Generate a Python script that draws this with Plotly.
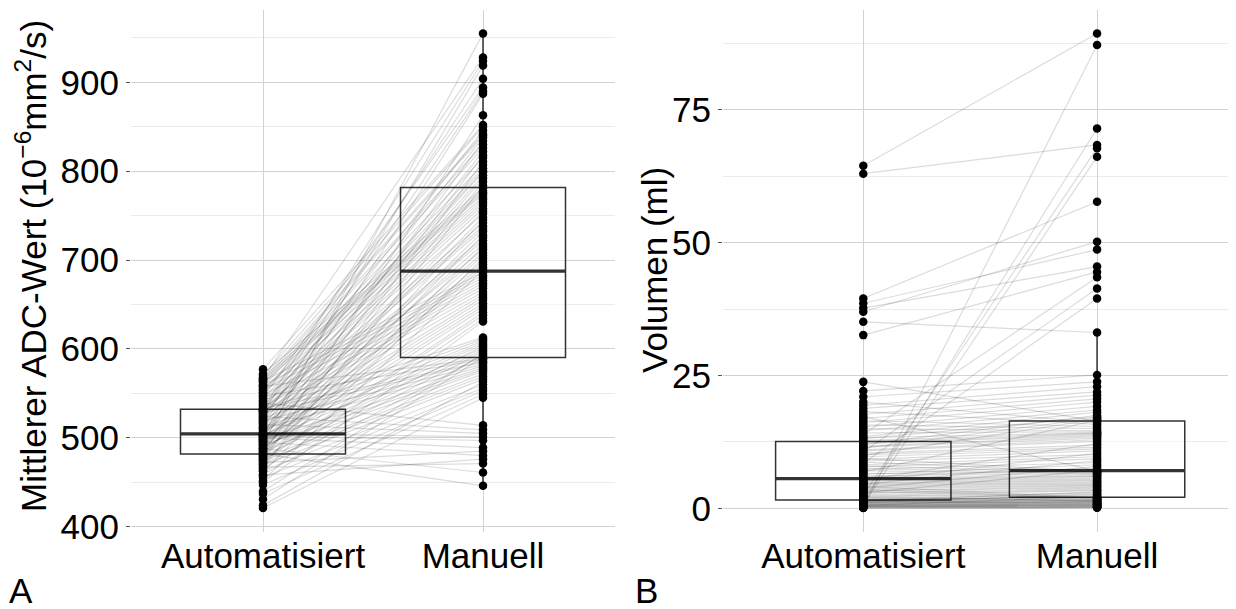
import numpy as np
import plotly.graph_objects as go

categories = ["Automatisiert", "Manuell"]

adc_auto = [421, 424, 431, 437, 440, 447, 450, 452, 455, 458, 459, 462, 463, 464, 466, 467, 469, 470, 471, 472, 474, 474, 475, 476, 477, 478, 479, 480, 481, 481,
            482, 483, 484, 485, 486, 487, 488, 488, 489, 490, 491, 492, 492, 493, 494, 495, 496, 496, 497, 498, 498, 499, 500, 500, 501, 502, 502, 503, 503, 504,
            505, 506, 507, 509, 510, 511, 512, 513, 515, 516, 517, 518, 519, 520, 521, 522, 523, 524, 525, 526, 527, 528, 529, 529, 530, 531, 531, 532, 532, 532,
            533, 535, 536, 538, 539, 541, 542, 544, 545, 547, 548, 550, 551, 553, 554, 555, 557, 558, 559, 560, 562, 563, 564, 565, 566, 567, 568, 570, 572, 577]

adc_manual = [545, 563, 591, 549, 595, 553, 631, 689, 556, 476, 593, 702, 560, 634, 784, 471, 566, 597, 715, 485, 638, 569, 811, 641, 572, 692, 599, 728, 863, 745,
              446, 603, 695, 788, 575, 645, 705, 461, 818, 601, 698, 577, 648, 955, 732, 480, 605, 708, 834, 579, 651, 718, 489, 887, 655, 748, 497, 607, 919, 755,
              501, 658, 792, 712, 581, 609, 722, 822, 505, 661, 725, 795, 583, 890, 735, 611, 838, 509, 738, 664, 799, 585, 742, 904, 668, 752, 846, 613, 924, 758,
              586, 671, 762, 800, 514, 674, 765, 803, 894, 588, 677, 768, 807, 815, 680, 771, 826, 589, 683, 830, 774, 840, 686, 776, 842, 928, 778, 850, 781, 852]

vol_auto = [0.05, 0.1, 0.15, 0.2, 0.2, 0.3, 0.35, 0.4, 0.4, 0.5, 0.55, 0.6, 0.65, 0.7, 0.75, 0.8, 0.9, 0.9, 1.0, 1.05, 1.1, 1.15, 1.2, 1.25, 1.3, 1.35, 1.4, 1.45, 1.5, 1.5,
            1.6, 1.7, 1.8, 2.0, 2.1, 2.2, 2.4, 2.5, 2.6, 2.8, 2.9, 3.0, 3.2, 3.3, 3.4, 3.6, 3.7, 3.8, 4.0, 4.1, 4.2, 4.4, 4.5, 4.6, 4.8, 4.9, 5.0, 5.2, 5.3, 5.5,
            5.7, 5.9, 6.1, 6.4, 6.6, 6.8, 7.1, 7.3, 7.5, 7.8, 8.0, 8.2, 8.5, 8.7, 8.9, 9.2, 9.4, 9.7, 9.9, 10.1, 10.4, 10.6, 10.8, 11.0, 11.3, 11.5, 11.7, 12.0, 12.2, 12.5,
            12.8, 13.1, 13.3, 13.5, 13.9, 14.2, 14.6, 15.0, 15.3, 15.7, 16.1, 16.5, 16.9, 17.3, 17.7, 18.2, 18.8, 19.4, 20.0, 21.0, 22.1, 23.8, 32.6, 35.1, 37.0, 37.7, 38.6, 39.5, 63.0, 64.5]

vol_manual = [0.1, 0.15, 0.3, 0.2, 87.2, 0.25, 0.5, 0.4, 0.35, 0.6, 2.2, 0.55, 0.8, 0.7, 66.2, 0.9, 1.0, 0.75, 1.2, 2.6, 1.1, 0.95, 1.4, 71.5, 1.15, 3.1, 1.3, 1.5, 2.1, 2.4,
              1.55, 2.7, 1.6, 1.7, 2.9, 1.35, 3.3, 67.8, 1.75, 3.4, 7.2, 3.6, 1.8, 3.8, 4.0, 1.9, 4.2, 7.9, 4.3, 2.0, 4.5, 4.7, 9.0, 4.9, 5.1, 5.3, 10.4, 5.5, 12.2, 5.7,
              5.9, 7.5, 6.0, 8.2, 6.2, 16.6, 6.4, 8.6, 6.5, 9.3, 6.7, 9.7, 39.5, 6.8, 10.1, 10.8, 6.9, 11.2, 16.8, 11.5, 11.9, 41.4, 12.6, 12.9, 17.0, 13.2, 13.5, 17.5, 13.7, 13.9,
              14.1, 17.2, 14.2, 18.1, 43.5, 14.4, 18.5, 14.6, 19.2, 15.0, 20.0, 15.4, 20.6, 7.0, 21.3, 15.8, 21.9, 22.9, 16.1, 23.8, 25.1, 16.4, 44.5, 33.1, 50.2, 45.5, 48.7, 57.7, 68.4, 89.4]

y_title_left = "Mittlerer ADC-Wert (10<sup>\u22126</sup>mm<sup>2</sup>/s)"
y_title_right = "Volumen (ml)"
panel_labels = ["A", "B"]

FONT = "Liberation Sans, Arial, sans-serif"
FS = 35
# page body margin (px) and the observed vertical squash of the captured page
OFF = 8
SQ = 0.978
W, H = 1236 - 2 * OFF, 615


def px_x(x):
    return (x - OFF) / W


def px_y(y):
    return 1 - (y / SQ - OFF) / H


def box_stats(vals):
    v = np.asarray(vals, dtype=float)
    q1, med, q3 = np.percentile(v, [25, 50, 75])
    iqr = q3 - q1
    lo = v[v >= q1 - 1.5 * iqr].min()
    hi = v[v <= q3 + 1.5 * iqr].max()
    return q1, med, q3, lo, hi


def add_panel(fig, auto, manual, xa, ya):
    st = [box_stats(auto), box_stats(manual)]
    fig.add_trace(go.Box(
        x=categories,
        q1=[s[0] for s in st], median=[s[1] for s in st], q3=[s[2] for s in st],
        lowerfence=[s[3] for s in st], upperfence=[s[4] for s in st],
        width=0.75,
        fillcolor="rgba(255,255,255,0.55)", line=dict(color="#333333", width=1.5),
        whiskerwidth=0, boxpoints=False, xaxis=xa, yaxis=ya,
        showlegend=False, hoverinfo="skip"))
    for a, m in zip(auto, manual):
        fig.add_trace(go.Scatter(
            x=categories, y=[a, m], mode="lines",
            line=dict(color="rgba(0,0,0,0.14)", width=1.2),
            xaxis=xa, yaxis=ya, showlegend=False, hoverinfo="skip"))
    meds = [s[1] for s in st]
    fig.add_trace(go.Box(
        x=categories, q1=meds, median=meds, q3=meds, lowerfence=meds, upperfence=meds,
        width=0.75,
        fillcolor="rgba(0,0,0,0)", line=dict(color="#333333", width=3.2),
        whiskerwidth=0, boxpoints=False, xaxis=xa, yaxis=ya,
        showlegend=False, hoverinfo="skip"))
    fig.add_trace(go.Scatter(
        x=[categories[0]] * len(auto) + [categories[1]] * len(manual),
        y=list(auto) + list(manual), mode="markers",
        marker=dict(color="black", size=8.5),
        xaxis=xa, yaxis=ya, showlegend=False, hoverinfo="skip"))


def yrange(vals):
    lo, hi = min(vals), max(vals)
    pad = 0.05 * (hi - lo)
    return [lo - pad, hi + pad]


fig = go.Figure()
add_panel(fig, adc_auto, adc_manual, "x", "y")
add_panel(fig, vol_auto, vol_manual, "x2", "y2")

ydom = [px_y(532), px_y(9.5)]
xdom1 = [px_x(131), px_x(615)]
xdom2 = [px_x(723), 1.0]

xcommon = dict(type="category", categoryorder="array", categoryarray=categories,
               showgrid=True, gridcolor="#d2d2d2", gridwidth=1.3,
               zeroline=False, showline=False, ticks="", ticklabelstandoff=0,
               tickfont=dict(family=FONT, size=FS, color="black"))
ycommon = dict(showgrid=True, gridcolor="#d2d2d2", gridwidth=1.3, zeroline=False,
               showline=False, ticks="outside", ticklen=4, tickwidth=1, tickcolor="#555555",
               tickfont=dict(family=FONT, size=FS, color="black"))

fig.update_layout(
    width=W, height=H,
    margin=dict(l=0, r=0, t=0, b=0),
    paper_bgcolor="white", plot_bgcolor="white",
    font=dict(family=FONT, size=FS, color="black"),
    xaxis=dict(domain=xdom1, anchor="y", range=[-0.6, 1.6], **xcommon),
    xaxis2=dict(domain=xdom2, anchor="y2", range=[-0.6, 1.56], **xcommon),
    yaxis=dict(domain=ydom, anchor="x", range=yrange(adc_auto + adc_manual),
               tick0=0, dtick=100,
               minor=dict(dtick=50, showgrid=True, gridcolor="#ebebeb", gridwidth=1),
               **ycommon),
    yaxis2=dict(domain=ydom, anchor="x2", range=yrange(vol_auto + vol_manual),
                tick0=0, dtick=25,
                minor=dict(dtick=12.5, showgrid=True, gridcolor="#ebebeb", gridwidth=1),
                **ycommon),
    annotations=[
        dict(text=y_title_left, x=px_x(31), y=px_y(266), xref="paper", yref="paper",
             textangle=-90, showarrow=False, xanchor="center", yanchor="middle",
             font=dict(family=FONT, size=FS, color="black")),
        dict(text=y_title_right, x=px_x(655), y=px_y(270), xref="paper", yref="paper",
             textangle=-90, showarrow=False, xanchor="center", yanchor="middle",
             font=dict(family=FONT, size=FS, color="black")),
        dict(text=panel_labels[0], x=px_x(21), y=px_y(591), xref="paper", yref="paper",
             showarrow=False, xanchor="center", yanchor="middle",
             font=dict(family=FONT, size=FS, color="black")),
        dict(text=panel_labels[1], x=px_x(646), y=px_y(591), xref="paper", yref="paper",
             showarrow=False, xanchor="center", yanchor="middle",
             font=dict(family=FONT, size=FS, color="black")),
    ],
)

fig.write_html("out.html")
